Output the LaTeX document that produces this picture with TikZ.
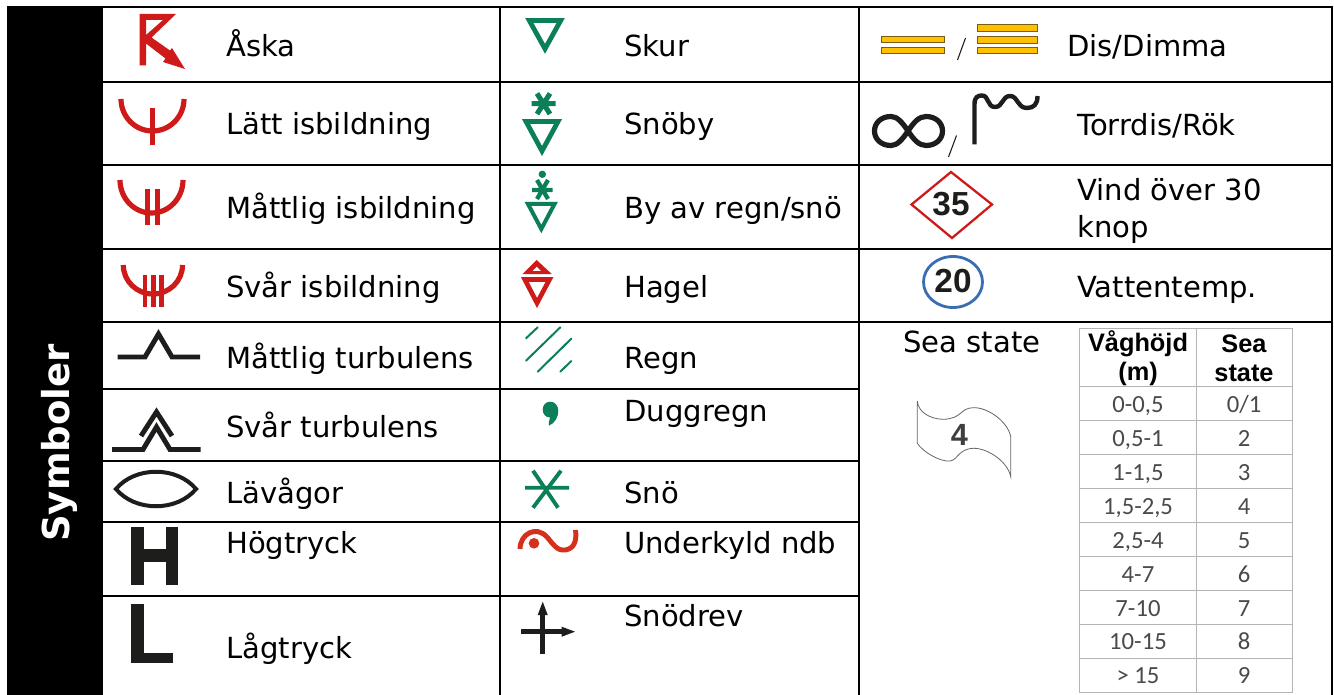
\documentclass[tikz,border=0pt]{standalone}
\usepackage{fontspec}
\setmainfont{DejaVu Sans}
\newfontfamily\arialn{Liberation Sans}
\newfontfamily\calib{Carlito}
\usetikzlibrary{arrows.meta}
\definecolor{rd}{HTML}{CF1A1A}
\definecolor{frz}{HTML}{D4301C}
\definecolor{gn}{HTML}{0A7F5A}
\definecolor{ink}{HTML}{1D1D1B}
\definecolor{yl}{HTML}{FFC000}
\definecolor{gridg}{HTML}{B4B4B4}
\definecolor{txtg}{HTML}{4A4A4A}
\definecolor{bl}{HTML}{3B6DB5}
\tikzset{
  x=0.75pt,y=-0.75pt,
  rule/.style={line width=1.9pt,black},
  lbl/.style={anchor=base west,inner sep=0pt,font=\fontsize{21.8}{27.5}\selectfont,align=left,text=black},
  rs/.style={rd,line width=3.9pt},
  rt/.style={rd,line width=3.7pt},
  gs/.style={gn,line width=3.6pt,line join=miter},
  ks/.style={ink,line width=3.7pt,line join=miter},
  tb/.style={font=\fontsize{18.5}{20}\selectfont\calib,text=txtg,inner sep=0pt,anchor=base},
  th/.style={font=\fontsize{19}{21.5}\selectfont\arialn\bfseries,text=black,inner sep=0pt,align=center},
  fog/.style={fill=yl,draw=ink!60!yl,line width=0.7pt},
}
\begin{document}
\begin{tikzpicture}
\useasboundingbox (0,0) rectangle (1334,695);
\fill[white] (0,0) rectangle (1334,695);
\fill[black] (7,6) rectangle (103,695);
% grid
\draw[rule] (7,7) -- (1333,7);
\draw[rule] (103,82) -- (1332,82);
\draw[rule] (103,165) -- (1332,165);
\draw[rule] (103,249) -- (1332,249);
\draw[rule] (103,322) -- (1332,322);
\draw[rule] (103,389) -- (859,389);
\draw[rule] (103,461) -- (859,461);
\draw[rule] (103,522) -- (859,522);
\draw[rule] (103,596) -- (859,596);
\draw[rule] (500,6) -- (500,695);
\draw[rule] (859,6) -- (859,695);
\draw[rule] (1332,6) -- (1332,695);
\node[rotate=90,text=white,font=\fontsize{27.8}{30}\selectfont\bfseries,inner sep=0pt] (title) at (59,443) {Symboler};
% labels col 1
\node[lbl] (l1) at (226,57) {Åska};
\node[lbl] (l2) at (226,135) {Lätt isbildning};
\node[lbl] (l3) at (226,219) {Måttlig isbildning};
\node[lbl] (l4) at (226,297) {Svår isbildning};
\node[lbl] (l5) at (226,368) {Måttlig turbulens};
\node[lbl] (l6) at (226,437) {Svår turbulens};
\node[lbl] (l7) at (226,503) {Lävågor};
\node[lbl] (l8) at (226,553) {Högtryck};
\node[lbl] (l9) at (226,658) {Lågtryck};
% labels col 2
\node[lbl] (m1) at (624,57) {Skur};
\node[lbl] (m2) at (624,135) {Snöby};
\node[lbl] (m3) at (624,219) {By av regn/snö};
\node[lbl] (m4) at (624,297) {Hagel};
\node[lbl] (m5) at (624,368) {Regn};
\node[lbl] (m6) at (624,421) {Duggregn};
\node[lbl] (m7) at (624,503) {Snö};
\node[lbl] (m8) at (624,553) {Underkyld ndb};
\node[lbl] (m9) at (624,626) {Snödrev};
% labels col 3
\node[lbl] (r1) at (1067,57) {Dis/Dimma};
\node[lbl] (r2) at (1077,136) {Torrdis/Rök};
\node[lbl] (r3a) at (1077,201) {Vind över 30};
\node[lbl] (r3b) at (1077,238) {knop};
\node[lbl] (r4) at (1077,297) {Vattentemp.};
\node[lbl] (r5) at (903,352) {Sea state};
% --- lightning
\fill[rd,even odd rule] (139.5,14) -- (176,14) -- (151.5,37.5) -- (170,50.5) -- (172,48) -- (185,69) -- (163,62) -- (165.5,58.5) -- (146,43.5) -- (146,65.5) -- (139.5,65.5) -- cycle
  (146,20) -- (163,20) -- (146,35) -- cycle;
% icing
\draw[rs] (121,99) arc[start angle=180,end angle=0,x radius=31.5,y radius=32];
\draw[rt] (152.5,108) -- (152.5,145);
\draw[rs] (120,180) arc[start angle=180,end angle=0,x radius=31.5,y radius=33];
\draw[rt] (147.5,189) -- (147.5,225.5) (157.5,189) -- (157.5,225.5);
\draw[rs] (123.3,265) arc[start angle=180,end angle=0,x radius=29.6,y radius=29];
\draw[rt,line width=3.5pt] (145,274.5) -- (145,307) (153.5,274.5) -- (153.5,307) (161.5,274.5) -- (161.5,307);
% turbulence
\draw[ks] (117.5,357) -- (145,357) -- (158.5,334) -- (172,357) -- (200,357);
\draw[ks] (112,449.5) -- (143,449.5) -- (156.5,427) -- (170,449.5) -- (200.5,449.5);
\draw[ks] (141,436) -- (156.5,412) -- (172,436);
% lee wave
\draw[ks,line width=3pt] (116,489) .. controls (135,466) and (177,466) .. (196,489) .. controls (177,512) and (135,512) .. (116,489) -- cycle;
% H L
\fill[ink] (131,527) rectangle (143.5,585);
\fill[ink] (165.7,527) rectangle (177.7,585);
\fill[ink] (131,549) rectangle (177.7,562);
\fill[ink] (131,604) rectangle (143.5,662.7);
\fill[ink] (131,653) rectangle (172.7,662.7);
% --- green/col 2
\draw[gs] (529.3,20.5) -- (560.7,20.5) -- (545,48.8) -- cycle;
% snow shower
\draw[gs] (526,121.5) -- (558,121.5) -- (542,151) -- cycle;
\draw[gn,line width=3.8pt] (531.7,103.7) -- (555.7,103.7) (537,93.5) -- (550,114) (550,93.5) -- (537,114);
% rain/snow
\draw[gs,line width=3pt] (528,204) -- (554.5,204) -- (541.3,229) -- cycle;
\fill[gn] (542.3,174.3) circle (3.7);
\draw[gn,line width=3.2pt] (532,190) -- (552.7,190) (537,180) -- (548,199) (548,180) -- (537,199);
% hail
\fill[rd,even odd rule] (536.7,260) -- (551.7,274) -- (522.7,274) -- cycle
  (536.7,266.5) -- (541,271) -- (532.5,271) -- cycle;
\draw[rd,line join=miter,line width=3.5pt] (524.8,279.5) -- (549.5,279.5) -- (537,303) -- cycle;
% rain
\draw[gn,line width=1.5pt,line cap=round] (526,338.3) -- (537.7,327.3) (526,360.7) -- (560.3,327.3) (537.7,371.7) -- (571.3,338.7) (560.3,371.7) -- (571.3,361);
% drizzle
\fill[gn] (550,401.7) .. controls (555,401.7) and (558.3,405.5) .. (558.3,411) .. controls (558.3,417) and (555,423) .. (549,425.7) .. controls (548.5,424) and (549,420) .. (550,417.5) .. controls (545.5,417.5) and (542.7,414) .. (542.7,409.5) .. controls (542.7,405) and (546,401.7) .. (550,401.7) -- cycle;
% snow
\draw[gn,line width=2.9pt] (525,487.7) -- (569,487.7) (533,470.7) -- (558,507.7) (561,470.7) -- (533,507.7);
% freezing
\draw[frz,line width=3.7pt] (520,549) .. controls (520,534) and (536,525) .. (547,537) .. controls (553,544) and (557,551) .. (565,550) .. controls (574,549) and (577,541) .. (575.5,530);
\fill[frz] (534,543.3) circle (5.3);
% snow drift
\draw[ink,line width=3.4pt] (542.5,610) -- (542.5,654.3);
\draw[ink,line width=3.4pt] (521,631.7) -- (565,631.7);
\fill[ink] (542.7,601.7) -- (547.7,615) -- (537.7,615) -- cycle;
\fill[ink] (575,631.7) -- (561.7,626.7) -- (561.7,636.7) -- cycle;
% --- col 3 fog
\draw[fog] (881,36) rectangle (944,42.5);
\draw[fog] (881,47.5) rectangle (944,53.5);
\draw[fog] (977.5,24.5) rectangle (1037,31);
\draw[fog] (977.5,36) rectangle (1037,43);
\draw[fog] (977.5,47.5) rectangle (1037,53.5);
\draw[ink,line width=0.8pt] (965.5,38) -- (957.5,60);
% smoke
\draw[ink,line width=3.9pt] (908,131) .. controls (902,122) and (897,116.5) .. (891,116.5) .. controls (881,116.5) and (874.5,123) .. (874.5,131) .. controls (874.5,139) and (881,145.5) .. (891,145.5) .. controls (897,145.5) and (902,140) .. (908,131) .. controls (914,122) and (919,116.5) .. (926,116.5) .. controls (936,116.5) and (942.5,123) .. (942.5,131) .. controls (942.5,139) and (936,145.5) .. (926,145.5) .. controls (919,145.5) and (914,140) .. (908,131) -- cycle;
\draw[ink,line width=0.8pt] (956.5,135.5) -- (948.5,157);
\draw[ink,line width=3.3pt] (974.5,144.5) -- (974.5,104) .. controls (974.5,97) and (978,95.5) .. (982,95.5) .. controls (989,95.5) and (987,107) .. (995,107) .. controls (1003,107) and (1002,96) .. (1010,96) .. controls (1018,96) and (1017,108) .. (1027,108) .. controls (1034,108) and (1037.5,104) .. (1037.5,96);
% wind
\draw[rd,line width=1.7pt,line join=miter] (911.5,204.5) -- (951,172) -- (992,204.5) -- (952,238) -- cycle;
\node[font=\fontsize{25}{25}\selectfont\arialn\bfseries,text=ink,inner sep=0pt] (w35) at (951,204) {35};
% temp
\draw[bl,line width=2.1pt] (953,282) ellipse (29.5 and 25.5);
\node[font=\fontsize{25}{25}\selectfont\arialn\bfseries,text=ink,inner sep=0pt] (t20) at (953,281) {20};
% flag
\draw[black!60,line width=0.6pt] (917.3,401) -- (917.3,443.3) .. controls (923,452) and (940,462) .. (950,461) .. controls (958,460) and (958,449) .. (973.3,448.3) .. controls (988,448) and (1008,462) .. (1010.7,476.7) -- (1010.7,436.7) .. controls (1008,422) and (988,407) .. (973,407.7) .. controls (960,408) and (962,419) .. (943,419.3) .. controls (930,419) and (918,412) .. (917.3,401) -- cycle;
\node[font=\fontsize{23}{23}\selectfont\arialn\bfseries,text=ink!85!white,inner sep=0pt] (f4) at (959.3,435) {4};
% table
\draw[gridg,line width=1.1pt] (1079.3,328.3) rectangle (1292.7,692.5);
\draw[gridg,line width=1.1pt] (1196.7,328.3) -- (1196.7,692.5);
\foreach \yy in {386.7,420.7,454.7,488.5,522.7,556.7,590.7,624.7,658.7}
  \draw[gridg,line width=1.1pt] (1079.3,\yy) -- (1292.7,\yy);
\node[th] (h1) at (1138,358) {Våghöjd\\(m)};
\node[th] (h2) at (1244,358) {Sea\\state};
\node[tb] (a1) at (1138,412) {0-0,5};   \node[tb] (b1) at (1244,412) {0/1};
\node[tb] (a2) at (1138,446) {0,5-1};   \node[tb] (b2) at (1244,446) {2};
\node[tb] (a3) at (1138,480) {1-1,5};   \node[tb] (b3) at (1244,480) {3};
\node[tb] (a4) at (1138,514) {1,5-2,5}; \node[tb] (b4) at (1244,514) {4};
\node[tb] (a5) at (1138,548) {2,5-4};   \node[tb] (b5) at (1244,548) {5};
\node[tb] (a6) at (1138,582) {4-7};     \node[tb] (b6) at (1244,582) {6};
\node[tb] (a7) at (1138,616) {7-10};    \node[tb] (b7) at (1244,616) {7};
\node[tb] (a8) at (1138,649) {10-15};   \node[tb] (b8) at (1244,649) {8};
\node[tb] (a9) at (1138,683) {> 15};    \node[tb] (b9) at (1244,683) {9};
\end{tikzpicture}
\end{document}
